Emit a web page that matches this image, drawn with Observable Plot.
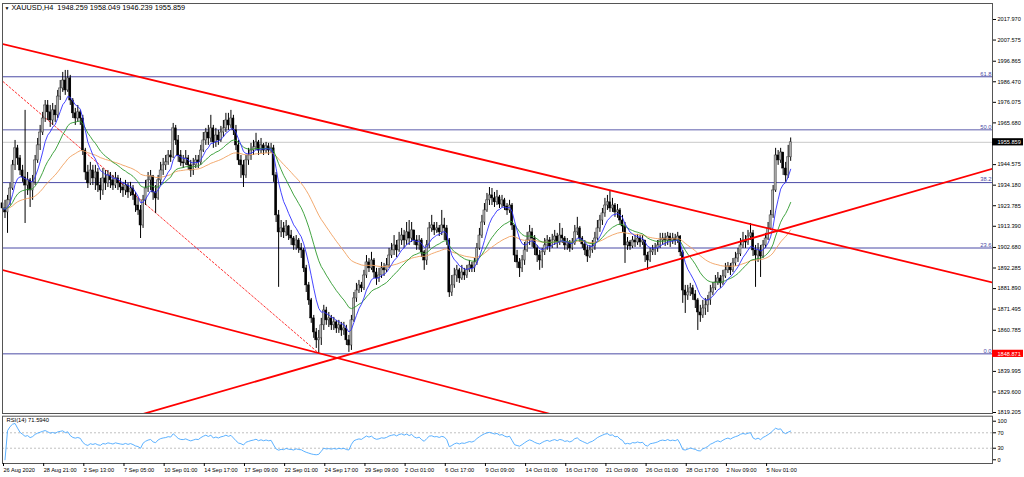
<!DOCTYPE html>
<html><head><meta charset="utf-8">
<script src="https://cdn.jsdelivr.net/npm/d3@7"></script>
<script src="https://cdn.jsdelivr.net/npm/@observablehq/plot@0.6"></script>
<style>
body{margin:0;background:#fff;}
#wrap{position:relative;width:1024px;height:477px;overflow:hidden;background:#fff;}
#wrap svg{display:block;}
</style>
</head><body><div id="wrap"></div>
<script>
// ---------- DATA (XAUUSD H4) ----------
const close = [
1922.4,1920.4,1926.5,1932.5,1944.2,1952.8,1947.7,1941.6,1938.1,1934.0,1936.6,1931.5,1935.6,1946.7,1954.3,1960.8,
1967.9,1974.5,1971.0,1966.9,1972.0,1969.5,1979.0,1983.1,1987.1,1982.1,1988.2,1977.0,1970.5,1967.9,1971.0,1967.9,
1951.7,1940.6,1935.1,1941.6,1937.6,1940.6,1934.0,1931.5,1937.6,1935.1,1939.1,1936.6,1934.0,1937.6,1935.1,1933.0,
1931.5,1934.0,1930.5,1932.5,1929.0,1923.9,1921.4,1913.8,1926.5,1932.5,1936.6,1938.6,1930.5,1927.5,1936.6,1941.6,
1944.2,1945.7,1949.2,1948.2,1962.9,1956.8,1949.2,1945.7,1945.2,1947.7,1944.2,1941.6,1944.2,1946.7,1945.7,1951.7,
1956.8,1960.8,1957.8,1962.9,1955.8,1959.3,1956.8,1960.8,1962.9,1966.9,1964.4,1967.9,1961.9,1954.3,1946.7,1944.2,
1939.1,1946.7,1949.2,1951.7,1953.3,1955.8,1951.7,1954.3,1951.7,1953.8,1951.7,1952.8,1939.1,1918.9,1910.3,1912.3,
1910.3,1913.3,1908.7,1907.2,1903.7,1906.2,1902.2,1901.2,1892.1,1883.5,1875.9,1866.8,1859.7,1855.7,1856.7,1863.3,
1870.8,1865.8,1866.8,1863.3,1864.8,1861.7,1863.3,1860.7,1861.7,1855.7,1853.1,1865.8,1876.9,1880.9,1883.5,1882.0,
1888.5,1895.1,1892.1,1896.1,1890.0,1887.0,1888.5,1892.1,1891.1,1893.6,1898.6,1901.2,1903.7,1901.2,1906.2,1908.7,
1906.2,1910.3,1907.2,1911.3,1906.2,1903.7,1906.2,1900.2,1896.1,1903.7,1912.3,1913.8,1911.3,1912.3,1910.3,1913.8,
1912.3,1906.2,1879.9,1883.5,1888.5,1891.1,1887.0,1890.0,1888.5,1891.1,1893.6,1892.1,1895.1,1902.2,1908.7,1915.3,
1921.4,1926.5,1929.0,1927.5,1925.5,1928.0,1924.4,1926.5,1923.4,1921.4,1923.9,1913.8,1898.6,1895.1,1892.1,1896.1,
1901.2,1906.2,1910.3,1907.2,1902.2,1898.6,1896.1,1900.2,1903.7,1906.2,1903.2,1906.2,1908.2,1905.2,1908.7,1907.2,
1903.7,1905.2,1902.2,1904.7,1910.3,1912.3,1907.2,1904.2,1901.2,1898.1,1901.2,1903.2,1907.2,1912.3,1916.3,1919.9,
1923.9,1925.5,1922.4,1923.9,1920.4,1921.4,1916.3,1913.3,1903.7,1905.2,1903.2,1906.2,1905.2,1907.2,1905.2,1906.2,
1898.6,1896.1,1900.2,1901.2,1902.2,1903.7,1906.2,1907.2,1906.2,1908.2,1906.2,1907.2,1906.2,1908.2,1900.2,1880.9,
1878.4,1879.9,1882.0,1878.9,1875.9,1869.8,1868.3,1871.8,1873.4,1875.9,1879.9,1882.0,1885.0,1887.0,1884.5,1888.0,
1891.1,1893.1,1891.1,1894.6,1897.1,1899.2,1903.7,1906.2,1905.2,1908.2,1909.8,1901.2,1898.6,1901.2,1898.1,1903.7,
1907.2,1912.3,1918.9,1931.5,1949.2,1946.7,1950.7,1942.6,1939.1,1948.26,1955.859
];
const high = [
1929.0,1926.5,1929.0,1935.1,1946.7,1956.8,1954.3,1949.2,1944.2,1972.0,1940.6,1937.6,1939.1,1949.2,1957.8,1964.4,
1971.0,1977.0,1977.0,1974.5,1975.5,1974.5,1982.1,1987.1,1991.2,1992.2,1992.2,1989.7,1978.0,1973.0,1974.5,1972.0,
1969.5,1952.8,1944.2,1945.7,1944.2,1944.2,1942.6,1937.6,1942.6,1941.6,1941.6,1940.6,1939.1,1940.6,1939.1,1937.6,
1935.6,1936.6,1935.1,1935.6,1934.0,1930.5,1927.5,1923.9,1929.0,1936.6,1940.6,1941.6,1939.1,1934.0,1939.1,1945.7,
1947.7,1949.2,1951.7,1951.7,1965.4,1964.4,1959.3,1951.7,1949.2,1951.7,1949.2,1946.7,1947.7,1949.2,1949.2,1954.3,
1960.8,1962.9,1964.4,1969.5,1964.4,1962.9,1961.9,1963.9,1966.9,1970.5,1970.5,1972.0,1969.5,1964.4,1956.8,1949.2,
1946.7,1949.2,1952.8,1955.3,1956.8,1960.4,1956.8,1957.8,1955.3,1955.8,1955.3,1955.3,1954.3,1940.6,1921.4,1916.3,
1915.3,1916.3,1913.8,1911.3,1908.2,1908.7,1907.2,1904.7,1902.2,1893.6,1885.0,1876.9,1868.3,1861.7,1860.7,1866.8,
1873.4,1872.4,1869.8,1868.3,1867.3,1865.8,1865.8,1864.8,1864.8,1863.3,1858.2,1868.3,1879.9,1884.5,1886.0,1885.0,
1891.1,1898.6,1897.1,1900.2,1897.1,1892.1,1892.1,1895.1,1894.6,1897.1,1902.2,1904.7,1908.7,1906.2,1910.3,1912.3,
1911.3,1915.3,1916.3,1915.3,1911.3,1908.7,1908.7,1907.2,1901.2,1906.2,1915.3,1918.9,1915.3,1915.3,1913.8,1921.4,
1917.4,1913.8,1907.2,1888.5,1892.1,1893.6,1892.1,1893.6,1892.1,1893.6,1896.1,1895.1,1897.1,1904.7,1912.3,1918.9,
1924.9,1930.0,1933.0,1932.5,1930.5,1931.5,1929.0,1929.0,1927.5,1924.9,1926.5,1924.9,1913.8,1901.2,1897.1,1898.6,
1905.2,1910.3,1913.8,1912.3,1908.7,1903.7,1901.2,1902.2,1907.2,1908.7,1907.7,1909.3,1911.3,1909.8,1914.8,1912.3,
1908.2,1907.2,1906.2,1907.2,1913.8,1917.9,1913.3,1908.2,1906.2,1903.7,1903.7,1906.2,1910.3,1916.3,1918.9,1922.4,
1927.5,1929.0,1931.5,1927.5,1924.9,1924.4,1922.4,1918.9,1915.3,1907.7,1906.2,1908.2,1908.7,1909.3,1908.7,1908.7,
1906.2,1900.2,1902.2,1903.7,1904.7,1906.2,1909.8,1909.8,1909.8,1910.3,1909.8,1909.8,1909.3,1910.3,1908.7,1901.2,
1883.5,1883.5,1884.5,1883.5,1880.9,1876.9,1873.4,1875.9,1876.9,1878.4,1883.5,1885.0,1888.5,1890.0,1888.5,1891.1,
1894.6,1895.1,1894.6,1897.1,1900.2,1902.2,1907.2,1910.3,1908.7,1911.3,1914.8,1911.3,1903.7,1904.7,1903.7,1906.2,
1909.8,1915.3,1921.4,1934.0,1952.8,1951.7,1952.8,1950.7,1945.7,1954.3,1958.049
];
const low = [
1918.9,1917.3,1909.8,1923.9,1931.5,1941.6,1944.2,1939.1,1935.6,1914.8,1929.0,1922.9,1926.5,1934.0,1945.2,1951.7,
1959.3,1965.9,1966.9,1963.4,1964.4,1965.9,1967.9,1977.0,1981.1,1979.6,1981.1,1974.5,1967.9,1964.4,1965.9,1964.4,
1949.2,1936.6,1932.5,1934.0,1934.0,1931.5,1930.5,1926.5,1929.0,1931.5,1933.0,1932.5,1931.5,1932.5,1931.5,1930.0,
1928.0,1929.0,1927.5,1928.5,1926.5,1920.4,1918.9,1907.2,1912.3,1923.9,1930.5,1931.5,1926.5,1919.9,1926.5,1934.0,
1939.1,1941.6,1944.2,1945.7,1947.7,1954.3,1945.7,1943.7,1942.6,1944.2,1941.6,1938.1,1939.1,1942.6,1942.6,1944.2,
1950.7,1954.3,1954.3,1955.8,1952.8,1953.3,1954.3,1955.8,1958.3,1960.8,1961.9,1962.9,1959.3,1951.7,1944.2,1937.6,
1933.0,1937.6,1944.2,1946.7,1949.2,1951.7,1949.2,1950.2,1949.2,1950.2,1949.2,1950.2,1935.6,1915.3,1882.5,1907.7,
1907.2,1908.2,1906.2,1903.7,1901.2,1901.2,1899.7,1897.1,1890.0,1879.9,1873.4,1864.3,1856.7,1851.6,1848.9,1853.1,
1860.7,1863.3,1862.2,1860.7,1860.7,1859.2,1859.2,1857.7,1858.2,1853.1,1849.6,1850.6,1864.8,1874.9,1879.4,1879.9,
1880.9,1887.0,1890.0,1891.1,1887.0,1883.5,1885.0,1887.0,1888.0,1890.0,1892.1,1897.1,1898.6,1897.6,1900.2,1903.7,
1902.2,1903.7,1903.7,1905.2,1903.7,1901.2,1901.2,1897.6,1891.1,1893.6,1902.2,1910.3,1908.7,1909.8,1908.2,1908.7,
1906.2,1903.7,1877.4,1877.9,1882.0,1885.0,1884.5,1886.0,1886.0,1887.0,1890.0,1890.0,1890.0,1893.6,1901.2,1907.2,
1913.8,1920.4,1923.9,1923.9,1922.9,1923.9,1922.4,1922.9,1921.4,1918.9,1919.9,1911.3,1895.1,1892.1,1887.5,1890.0,
1893.6,1900.2,1903.7,1902.7,1898.6,1895.1,1891.1,1892.1,1898.6,1901.2,1900.2,1902.2,1903.7,1902.2,1903.7,1904.7,
1901.2,1901.2,1900.2,1901.2,1903.7,1908.7,1905.2,1902.2,1898.6,1895.1,1897.1,1899.7,1901.2,1906.2,1910.3,1913.8,
1917.9,1921.4,1920.4,1920.4,1917.9,1917.4,1913.8,1910.3,1894.6,1901.2,1901.2,1902.2,1902.7,1903.7,1902.7,1903.7,
1895.1,1891.1,1895.1,1898.6,1898.6,1900.2,1902.2,1903.7,1903.2,1903.7,1902.7,1904.2,1903.7,1904.7,1898.1,1874.4,
1869.3,1875.9,1877.9,1875.9,1871.8,1860.7,1864.8,1866.8,1868.3,1869.8,1873.4,1878.4,1880.9,1883.5,1882.0,1883.5,
1887.0,1889.5,1888.5,1890.0,1893.1,1895.1,1898.1,1902.2,1902.2,1903.7,1906.2,1898.1,1882.5,1895.1,1887.5,1897.1,
1902.2,1906.2,1911.3,1917.4,1930.5,1944.2,1945.2,1939.1,1935.6,1937.6,1946.239
];
const firstOpen = 1925.0;

// x-axis tick labels (every 16 H4 bars)
const timeTickBars = [0,16,32,48,64,80,96,112,128,144,160,176,192,208,224,240,256,272,288,304];
const timeTickLabels = ["26 Aug 2020","28 Aug 21:00","2 Sep 13:00","7 Sep 05:00","10 Sep 01:00","14 Sep 17:00",
  "17 Sep 09:00","22 Sep 01:00","24 Sep 17:00","29 Sep 09:00","2 Oct 01:00","6 Oct 17:00","9 Oct 09:00",
  "14 Oct 01:00","16 Oct 17:00","21 Oct 09:00","26 Oct 01:00","28 Oct 17:00","2 Nov 09:00","5 Nov 01:00"];

// price-axis tick labels
const priceTicks = [2017.970,2007.575,1996.865,1986.470,1976.075,1965.680,1944.575,1934.180,1923.785,1913.390,
  1902.680,1892.285,1881.890,1871.495,1860.785,1839.995,1829.600,1819.205];

// Fibonacci retracement levels
const fibLabels = ["0.0","23.6","38.2","50.0","61.8"];
const fibPrices = [1848.871,1902.40,1935.48,1962.24,1989.00];

// Trend lines: [barIndex, price] endpoints
const trendUpper = [[-1,2005.9],[395,1884.8]];
const trendLower = [[-1,1891.6],[218,1818.55]];
const trendRising = [[55,1818.1],[395,1942.7]];
const trendDashed = [[-1,1987.9],[126,1849.2]];

const bidPrice = 1955.859;
const lowPrice = 1848.871;
const rsiLevels = [70,30];
const rsiTicks = [100,70,30,0];
const headerMark = "\u25BC";
const headerText = "XAUUSD,H4  1948.259 1958.049 1946.239 1955.859";
const rsiText = "RSI(14) 71.5940";

// ---------- indicators ----------
function ema(vals,n){const k=2/(n+1);let e=vals[0];return vals.map((v,i)=>i?(e=e+k*(v-e)):e);}
function rsi(vals,n){
  const out=[null];let ag=0,al=0;
  for(let i=1;i<vals.length;i++){
    const ch=vals[i]-vals[i-1],g=Math.max(ch,0),l=Math.max(-ch,0);
    const m=Math.min(i,n);
    ag=(ag*(m-1)+g)/m; al=(al*(m-1)+l)/m;
    out.push(al===0?100:100-100/(1+ag/al));
  }
  return out;
}
const e8=ema(close,8), e21=ema(close,21), e50=ema(close,50), r14=rsi(close,14);
const bars = close.map((c,i)=>{
  const o = i?close[i-1]:firstOpen;
  return {i,o,c,h:Math.max(high[i],o,c),l:Math.min(low[i],o,c),e8:e8[i],e21:e21[i],e50:e50[i],rsi:r14[i]};
});
const lineData = (pts)=>pts.map(([i,p])=>({i,p}));

const FONT = "Liberation Sans, Arial, sans-serif";
const xDom=[0,394.4];
const xMax=xDom[1];
const FIB="#4b4ba6";

const main = Plot.plot({
  width:1024,height:414,marginLeft:2,marginRight:32,marginTop:3,marginBottom:1,
  style:{background:"#fff",fontFamily:FONT,fontSize:"5.6px",color:"#000",overflow:"visible"},
  x:{domain:xDom,axis:null},
  y:{domain:[1818.7,2026.06],axis:null},
  marks:[
    Plot.ruleY([bidPrice],{stroke:"#c8c8c8",strokeWidth:1}),
    Plot.ruleY(fibPrices,{stroke:(d,i)=>i===3?"#9494c8":FIB,strokeWidth:(d,i)=>i===3?1.6:1}),
    Plot.text(fibPrices,{x:xMax,y:d=>d,text:(d,i)=>fibLabels[i],textAnchor:"end",dx:-1,dy:-3,fill:FIB,fontSize:5.8}),
    Plot.line(lineData(trendDashed),{x:"i",y:"p",stroke:"#ff0000",strokeWidth:0.8,strokeDasharray:"2,2",clip:true}),
    Plot.ruleX(bars,{x:"i",y1:"l",y2:"h",stroke:"#000",strokeWidth:1}),
    Plot.rect(bars.filter(d=>d.c>=d.o),{x1:d=>d.i-0.4,x2:d=>d.i+0.4,y1:"o",y2:"c",fill:"#b4b4b4",stroke:"#333",strokeWidth:0.5}),
    Plot.rect(bars.filter(d=>d.c<d.o),{x1:d=>d.i-0.4,x2:d=>d.i+0.4,y1:"o",y2:"c",fill:"#000",stroke:"#000",strokeWidth:0.5}),
    Plot.line(bars,{x:"i",y:"e50",stroke:"#f0a060",strokeWidth:0.9}),
    Plot.line(bars,{x:"i",y:"e21",stroke:"#2e9a2e",strokeWidth:0.9}),
    Plot.line(bars,{x:"i",y:"e8",stroke:"#3030ff",strokeWidth:0.9}),
    Plot.line(lineData(trendUpper),{x:"i",y:"p",stroke:"#ff0000",strokeWidth:1.8,clip:true}),
    Plot.line(lineData(trendLower),{x:"i",y:"p",stroke:"#ff0000",strokeWidth:1.8,clip:true}),
    Plot.line(lineData(trendRising),{x:"i",y:"p",stroke:"#ff0000",strokeWidth:1.8,clip:true}),
    Plot.frame({stroke:"#555",strokeWidth:1}),
    Plot.axisY({anchor:"right",label:null,ticks:priceTicks,tickFormat:d=>d.toFixed(3),tickSize:3,tickPadding:2,fontSize:5.6,stroke:"#000"}),
    Plot.rect([bidPrice],{x1:xMax,x2:xMax,y1:d=>d,y2:d=>d,insetRight:-31,insetTop:-3.6,insetBottom:-3.6,fill:"#000"}),
    Plot.text([bidPrice],{x:xMax,y:d=>d,text:d=>d.toFixed(3),textAnchor:"start",dx:5,fill:"#fff",fontSize:5.6}),
    Plot.rect([lowPrice],{x1:xMax,x2:xMax,y1:d=>d,y2:d=>d,insetRight:-31,insetTop:-3.6,insetBottom:-3.6,fill:"#ff0000"}),
    Plot.text([lowPrice],{x:xMax,y:d=>d,text:d=>d.toFixed(3),textAnchor:"start",dx:5,fill:"#fff",fontSize:5.6}),
    Plot.text([headerMark],{frameAnchor:"top-left",dx:2,dy:2.5,textAnchor:"start",fill:"#000",fontSize:5}),
    Plot.text([headerText],{frameAnchor:"top-left",dx:9,dy:1.5,textAnchor:"start",fill:"#000",fontSize:7.3})
  ]
});

const labelMap = new Map(timeTickBars.map((b,i)=>[b,timeTickLabels[i]]));
const lower = Plot.plot({
  width:1024,height:63,marginLeft:2,marginRight:32,marginTop:1.7,marginBottom:14,
  style:{background:"#fff",fontFamily:FONT,fontSize:"5.6px",color:"#000",overflow:"visible"},
  x:{domain:xDom,axis:null},
  y:{domain:[-9.6,113],axis:null},
  marks:[
    Plot.ruleY(rsiLevels,{stroke:"#b0b0b0",strokeDasharray:"2,2",strokeWidth:0.8}),
    Plot.line(bars.filter(d=>d.rsi!=null),{x:"i",y:"rsi",stroke:"#4aa8ff",strokeWidth:0.9}),
    Plot.frame({stroke:"#555",strokeWidth:1}),
    Plot.axisY({anchor:"right",label:null,ticks:rsiTicks,tickFormat:d=>String(d),tickSize:3,tickPadding:2,fontSize:5.6}),
    Plot.axisX({anchor:"bottom",label:null,ticks:timeTickBars,tickFormat:d=>labelMap.get(d),tickSize:3,tickPadding:2,textAnchor:"start",dx:1,fontSize:5.6}),
    Plot.text([rsiText],{frameAnchor:"top-left",dx:4,dy:2,textAnchor:"start",fill:"#000",fontSize:5.8})
  ]
});

const wrap=document.getElementById("wrap");
wrap.appendChild(main);
wrap.appendChild(lower);
</script>
</body></html>
